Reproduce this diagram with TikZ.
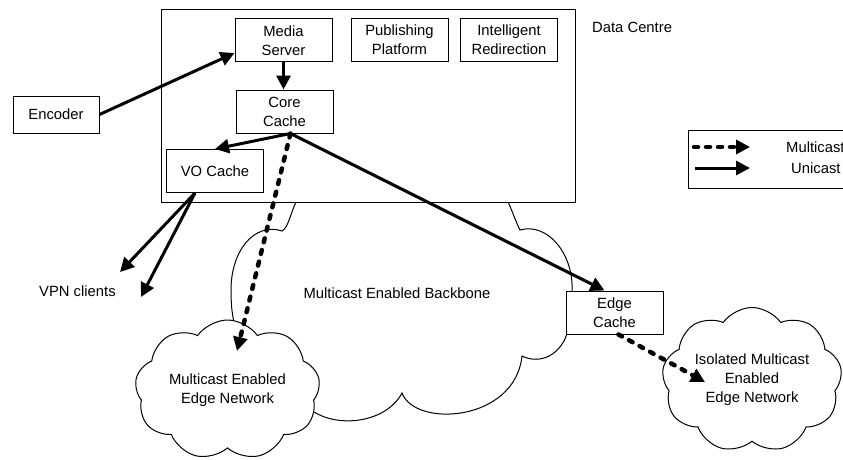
\documentclass[tikz,border=0pt]{standalone}
\usepackage{fontspec}
\setmainfont{Liberation Sans}
\usetikzlibrary{arrows.meta, shapes.symbols, positioning}

\begin{document}
\begin{tikzpicture}[x=1pt, y=-1pt,
    every node/.style={font=\fontsize{14.8}{19}\selectfont},
    box/.style={draw, fill=white, line width=1pt, minimum width=97pt, minimum height=43pt, inner sep=0pt, align=center},
    netcloud/.style={cloud, cloud ignores aspect, draw, fill=white, line width=1pt, cloud puffs=9, cloud puff arc=110, align=center, inner sep=0pt},
    lbl/.style={anchor=west, inner sep=0pt},
    unicast/.style={line width=3pt, -{Triangle[length=14pt,width=14pt]}},
    multicast/.style={line width=4.5pt, dash pattern=on 4pt off 8pt, line cap=round, -{Triangle[length=14pt,width=14pt]}}]
    \useasboundingbox (0,0) rectangle (843,460);

    % backbone cloud, the top goes under the data centre box
    \draw[line width=1pt, fill=white] (300,195) -- (296,202)
        .. controls (290,215) and (288,228) .. (282,231)
        .. controls (255,222) and (231,250) .. (231,290)
        .. controls (231,310) and (233,322) .. (238,335)
        -- (305,405)
        .. controls (330,430) and (385,425) .. (402,393)
        .. controls (415,428) and (515,422) .. (522,356)
        .. controls (540,365) and (562,355) .. (568,330)
        -- (572,291)
        .. controls (574,255) and (548,222) .. (520,230)
        .. controls (515,220) and (512,210) .. (508,202)
        -- (508,195) -- cycle;
    \node (backbone) at (397,293) {Multicast Enabled Backbone};

    % data centre
    \draw[line width=1pt, fill=white] (161,10) rectangle (575,202);
    \node[lbl] (dclabel) at (592,27) {Data Centre};
    \node[box] (media) at (283.5,40.5) {Media\\Server};
    \node[box] (publish) at (399.5,40) {Publishing\\Platform};
    \node[box] (redirect) at (509,40) {Intelligent\\Redirection};
    \node[box] (core) at (284.5,111.5) {Core\\Cache};
    \node[box] (vo) at (215,171) {VO Cache};

    \node[box, minimum width=86pt, minimum height=37pt] (enc) at (56,114.5) {Encoder};

    % edge networks
    \node[netcloud, minimum width=185pt, minimum height=140pt] (edgenet) at (227.5,390) {Multicast Enabled\\Edge Network};
    \node[netcloud, minimum width=180pt, minimum height=145pt] (isonet) at (752,380) {Isolated Multicast\\Enabled\\Edge Network};
    \node[box] (edge) at (614.5,312.5) {Edge\\Cache};

    \node[lbl] (vpn) at (39,291) {VPN clients};
    \coordinate (vpnA) at (120,272);
    \coordinate (vpnB) at (141,297);
    \coordinate (mctip) at (237,351);
    \coordinate (isotip) at (705,382);

    \draw[unicast] (enc.east) -- ([yshift=-12.5pt]media.west);
    \draw[unicast] (media.south) -- (media.south |- core.north);
    \draw[unicast] ([xshift=6pt]core.south) -- (vo.north);
    \draw[unicast] ([xshift=6pt]core.south) -- ([xshift=-10pt]edge.north);
    \draw[multicast] ([xshift=6pt]core.south) -- (mctip);
    \draw[unicast] ([xshift=-20pt]vo.south) -- (vpnA);
    \draw[unicast] ([xshift=-20pt]vo.south) -- (vpnB);
    \draw[multicast] ([xshift=4pt]edge.south) -- (isotip);

    % legend
    \draw[line width=1pt] (843,130) -- (688,130) -- (688,188) -- (843,188);
    \coordinate (mcA) at (694,147);
    \coordinate (mcB) at (750,147);
    \coordinate (ucA) at (695,168);
    \coordinate (ucB) at (750,168);
    \draw[multicast] (mcA) -- (mcB);
    \draw[unicast] (ucA) -- (ucB);
    \node[lbl] (mclabel) at (786,147) {Multicast};
    \node[lbl] (uclabel) at (791,168) {Unicast};
\end{tikzpicture}
\end{document}
